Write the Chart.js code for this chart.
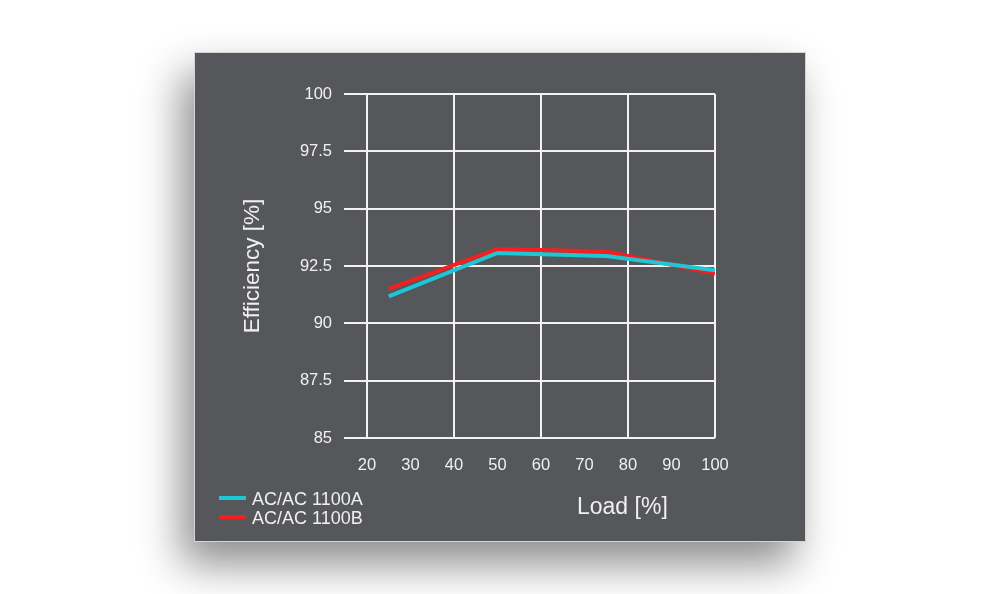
<!DOCTYPE html>
<html>
<head>
<meta charset="utf-8">
<script src="https://cdn.jsdelivr.net/npm/chart.js@4.4.1/dist/chart.umd.min.js"></script>
<style>
  body { margin: 0; background: #fff; }
  #page { position: relative; width: 1000px; height: 594px; overflow: hidden; }
  #panel {
    position: absolute; left: 194px; top: 52px; width: 610px; height: 488px;
    background: #56575a; border: 1px solid #d4d4d4;
    box-shadow: -12px 22px 40px rgba(0, 0, 0, 0.45);
  }
  #panel canvas { position: absolute; left: 0; top: 0; }
  .txt { position: absolute; color: #f0f0f0; line-height: 1; white-space: nowrap; }
  .legend-line { position: absolute; width: 27px; height: 4px; }
</style>
</head>
<body>
<div id="page">
  <div id="panel">
    <canvas id="effChart" width="610" height="488"></canvas>
  </div>
  <div class="legend-line" style="left:219px; top:496px; background:#1ec6d6;"></div>
  <div class="legend-line" style="left:219px; top:515px; background:#f51f1f;"></div>
  <div class="txt" style="left:252px; top:489px; font:18px 'Liberation Sans', Arial, sans-serif;">AC/AC 1100A</div>
  <div class="txt" style="left:252px; top:508px; font:18px 'Liberation Sans', Arial, sans-serif;">AC/AC 1100B</div>
  <div class="txt" style="left:577px; top:493px; font:23px 'Liberation Sans', Arial, sans-serif;">Load [%]</div>
</div>
<script>
// Values
const loadPoints = [25, 50, 75, 100];
const effA = [91.18, 93.07, 92.94, 92.31];
const effB = [91.50, 93.24, 93.13, 92.17];
const xTicks = [20, 30, 40, 50, 60, 70, 80, 90, 100];
const yTicks = [85, 87.5, 90, 92.5, 95, 97.5, 100];

const sans = "'Liberation Sans', Arial, sans-serif";
const gridColor = '#f2f2f2';

function toPoints(values) {
    return loadPoints.map((x, i) => ({ x: x, y: values[i] }));
}

function initEffChart() {
    const ctx = document.getElementById('effChart').getContext('2d');

    new Chart(ctx, {
        type: 'line',
        data: {
            datasets: [{
                label: 'AC/AC 1100A',
                data: toPoints(effA),
                borderColor: '#1ec6d6',
                borderWidth: 4,
                pointRadius: 0,
                tension: 0
            }, {
                label: 'AC/AC 1100B',
                data: toPoints(effB),
                borderColor: '#f51f1f',
                borderWidth: 4,
                pointRadius: 0,
                tension: 0
            }]
        },
        options: {
            responsive: false,
            animation: false,
            layout: {
                padding: { top: 41, right: 90, left: 0, bottom: 0 }
            },
            plugins: {
                legend: { display: false },
                tooltip: { enabled: false }
            },
            scales: {
                x: {
                    type: 'linear',
                    min: xTicks[0],
                    max: xTicks[xTicks.length - 1],
                    afterBuildTicks: function(scale) {
                        scale.ticks = xTicks.map(v => ({ value: v }));
                    },
                    afterFit: function(scale) {
                        scale.height = 103;
                    },
                    border: { display: false },
                    grid: {
                        drawTicks: false,
                        lineWidth: 2,
                        color: function(c) {
                            return c.tick && c.tick.value % 20 === 0 ? gridColor : 'rgba(0,0,0,0)';
                        }
                    },
                    ticks: {
                        color: '#f0f0f0',
                        padding: 18,
                        maxRotation: 0,
                        autoSkip: false,
                        font: { family: sans, size: 16.5 },
                        callback: function(value) { return String(value); }
                    }
                },
                y: {
                    min: yTicks[0],
                    max: yTicks[yTicks.length - 1],
                    afterBuildTicks: function(scale) {
                        scale.ticks = yTicks.map(v => ({ value: v }));
                    },
                    afterFit: function(scale) {
                        scale.width = 172;
                    },
                    border: { display: false },
                    grid: {
                        color: gridColor,
                        lineWidth: 2,
                        tickLength: 23
                    },
                    ticks: {
                        color: '#f0f0f0',
                        padding: 12,
                        font: { family: sans, size: 16.5 },
                        callback: function(value) { return String(value); }
                    },
                    title: {
                        display: true,
                        text: 'Efficiency [%]',
                        color: '#f0f0f0',
                        padding: { top: 44, bottom: 0 },
                        font: { family: sans, size: 22.5, weight: 'normal' }
                    }
                }
            }
        }
    });
}

document.addEventListener('DOMContentLoaded', initEffChart);
</script>
</body>
</html>
